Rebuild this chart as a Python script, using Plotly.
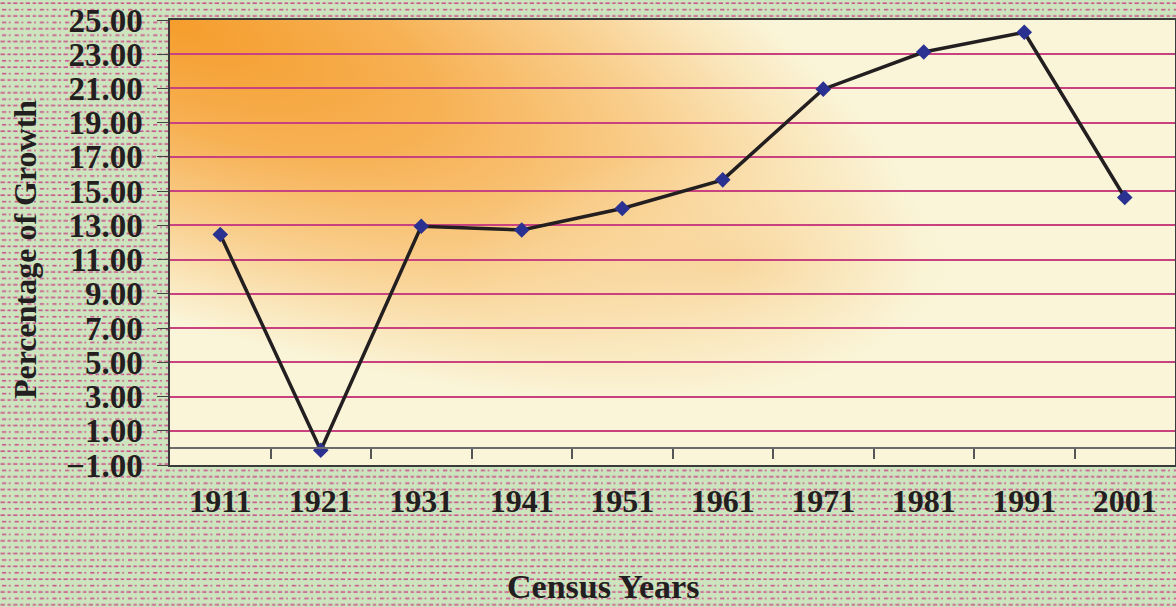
import base64
import plotly.graph_objects as go

# ---- data ----
years = ["1911", "1921", "1931", "1941", "1951", "1961", "1971", "1981", "1991", "2001"]
growth = [12.47, -0.14, 12.95, 12.73, 13.99, 15.66, 20.96, 23.13, 24.28, 14.63]
y_ticks = [-1, 1, 3, 5, 7, 9, 11, 13, 15, 17, 19, 21, 23, 25]
x_title = "Census Years"
y_title = "Percentage of Growth"

# ---- page geometry ----
W, H = 1176, 607
ML, MR, MT, MB = 170, 1, 20, 142
PW, PH = W - ML - MR, H - MT - MB

idx = list(range(len(years)))
bounds = [i + 0.5 for i in idx[:-1]]


def svg_uri(svg):
    return "data:image/svg+xml;base64," + base64.b64encode(svg.encode()).decode()


# page background: light green with magenta dash rows
bg_svg = f"""<svg xmlns="http://www.w3.org/2000/svg" width="{W}" height="{H}" viewBox="0 0 {W} {H}" preserveAspectRatio="none">
<defs><pattern id="p" x="0" y="1" width="12.6" height="12.8" patternUnits="userSpaceOnUse">
<rect x="0" y="0" width="12.6" height="12.8" fill="#cde5be"/>
<rect x="0.5" y="1.4" width="4.4" height="1.6" fill="#c9538c"/>
<rect x="7.4" y="1.4" width="3.4" height="1.6" fill="#c9538c"/>
<rect x="2.0" y="7.8" width="4.2" height="1.6" fill="#c9538c"/>
<rect x="8.9" y="7.8" width="1.7" height="1.6" fill="#c9538c"/>
</pattern></defs>
<rect x="0" y="0" width="{W}" height="{H}" fill="url(#p)"/>
</svg>"""

# plot area: orange glow from top-left fading to cream
pa_svg = f"""<svg xmlns="http://www.w3.org/2000/svg" width="{PW}" height="{PH}" viewBox="0 0 {PW} {PH}" preserveAspectRatio="none">
<defs>
<radialGradient id="g1" gradientUnits="userSpaceOnUse" cx="0" cy="0" r="1" gradientTransform="rotate(20) scale(800,285)">
<stop offset="0" stop-color="#f59d2c"/>
<stop offset="0.35" stop-color="#f7b154"/>
<stop offset="0.65" stop-color="#f9cf8e"/>
<stop offset="0.85" stop-color="#fae6bb"/>
<stop offset="1" stop-color="#faf5d9"/>
</radialGradient>
<radialGradient id="g2" gradientUnits="userSpaceOnUse" cx="0" cy="0" r="1" gradientTransform="translate(560,245) scale(270,115)">
<stop offset="0" stop-color="#f8d092" stop-opacity="0.55"/>
<stop offset="1" stop-color="#faf5d9" stop-opacity="0"/>
</radialGradient>
</defs>
<rect x="0" y="0" width="{PW}" height="{PH}" fill="#faf5d9"/>
<rect x="0" y="0" width="{PW}" height="{PH}" fill="url(#g1)"/>
<rect x="0" y="0" width="{PW}" height="{PH}" fill="url(#g2)"/>
</svg>"""

serif = "Liberation Serif"
ink = "#231f20"

fig = go.Figure()
fig.add_trace(go.Scatter(
    x=idx, y=growth, mode="lines+markers",
    line=dict(color=ink, width=3.5),
    marker=dict(symbol="diamond", size=12, color="#2b3190",
                line=dict(width=0)),
    showlegend=False, hoverinfo="x+y",
))
# invisible companion so the zero-line axis is drawn
fig.add_trace(go.Scatter(
    x=idx, y=growth, xaxis="x2", mode="lines", opacity=0,
    showlegend=False, hoverinfo="skip",
))

fig.update_layout(
    width=W, height=H,
    margin=dict(l=ML, r=MR, t=MT, b=MB, pad=0),
    paper_bgcolor="#cde5be",
    plot_bgcolor="rgba(0,0,0,0)",
    images=[
        dict(source=svg_uri(bg_svg), xref="paper", yref="paper",
             x=-ML / PW, y=1 + MT / PH, sizex=W / PW, sizey=H / PH,
             xanchor="left", yanchor="top", sizing="stretch", layer="below"),
        dict(source=svg_uri(pa_svg), xref="paper", yref="paper",
             x=0, y=1, sizex=1, sizey=1,
             xanchor="left", yanchor="top", sizing="stretch", layer="below"),
    ],
    xaxis=dict(
        range=[-0.5, len(years) - 0.5], tickvals=idx, ticktext=years,
        showgrid=False, zeroline=False,
        showline=True, mirror=True, linecolor="#3a3a3a", linewidth=1.5,
        ticks="outside", ticklen=7, tickcolor="rgba(0,0,0,0)",
        tickfont=dict(family=serif, size=32, color=ink, weight="bold"),
        automargin=False,
    ),
    xaxis2=dict(
        overlaying="x", anchor="free", position=1 / 26,
        range=[-0.5, len(years) - 0.5], tickvals=bounds,
        showticklabels=False, showgrid=False, zeroline=False,
        showline=True, linecolor="#6b6b6b", linewidth=2,
        ticks="outside", ticklen=10, tickwidth=1.5, tickcolor="#555555",
        automargin=False,
    ),
    yaxis=dict(
        range=[-1, 25], tickvals=y_ticks, tickformat=".2f",
        showgrid=True, gridcolor="#c8427f", gridwidth=1.5,
        zeroline=False,
        showline=True, mirror=True, linecolor="#3a3a3a", linewidth=1.5,
        ticks="outside", ticklen=11, tickwidth=1.2, tickcolor="#444444",
        ticklabelstandoff=8,
        tickfont=dict(family=serif, size=33, color=ink, weight="bold"),
        automargin=False,
    ),
    annotations=[
        dict(text=x_title, xref="paper", yref="paper",
             x=(603 - ML) / PW, y=(MT + PH - 586) / PH,
             xanchor="center", yanchor="middle", showarrow=False,
             font=dict(family=serif, size=34, color=ink, weight="bold")),
        dict(text=y_title, xref="paper", yref="paper",
             x=(25 - ML) / PW, y=(MT + PH - 250) / PH, textangle=-90,
             xanchor="center", yanchor="middle", showarrow=False,
             font=dict(family=serif, size=32, color=ink, weight="bold")),
    ],
)

fig.write_html(
    "out.html",
    config={"displayModeBar": False},
    post_script="document.body.style.margin='0';document.body.style.overflow='hidden';",
)
